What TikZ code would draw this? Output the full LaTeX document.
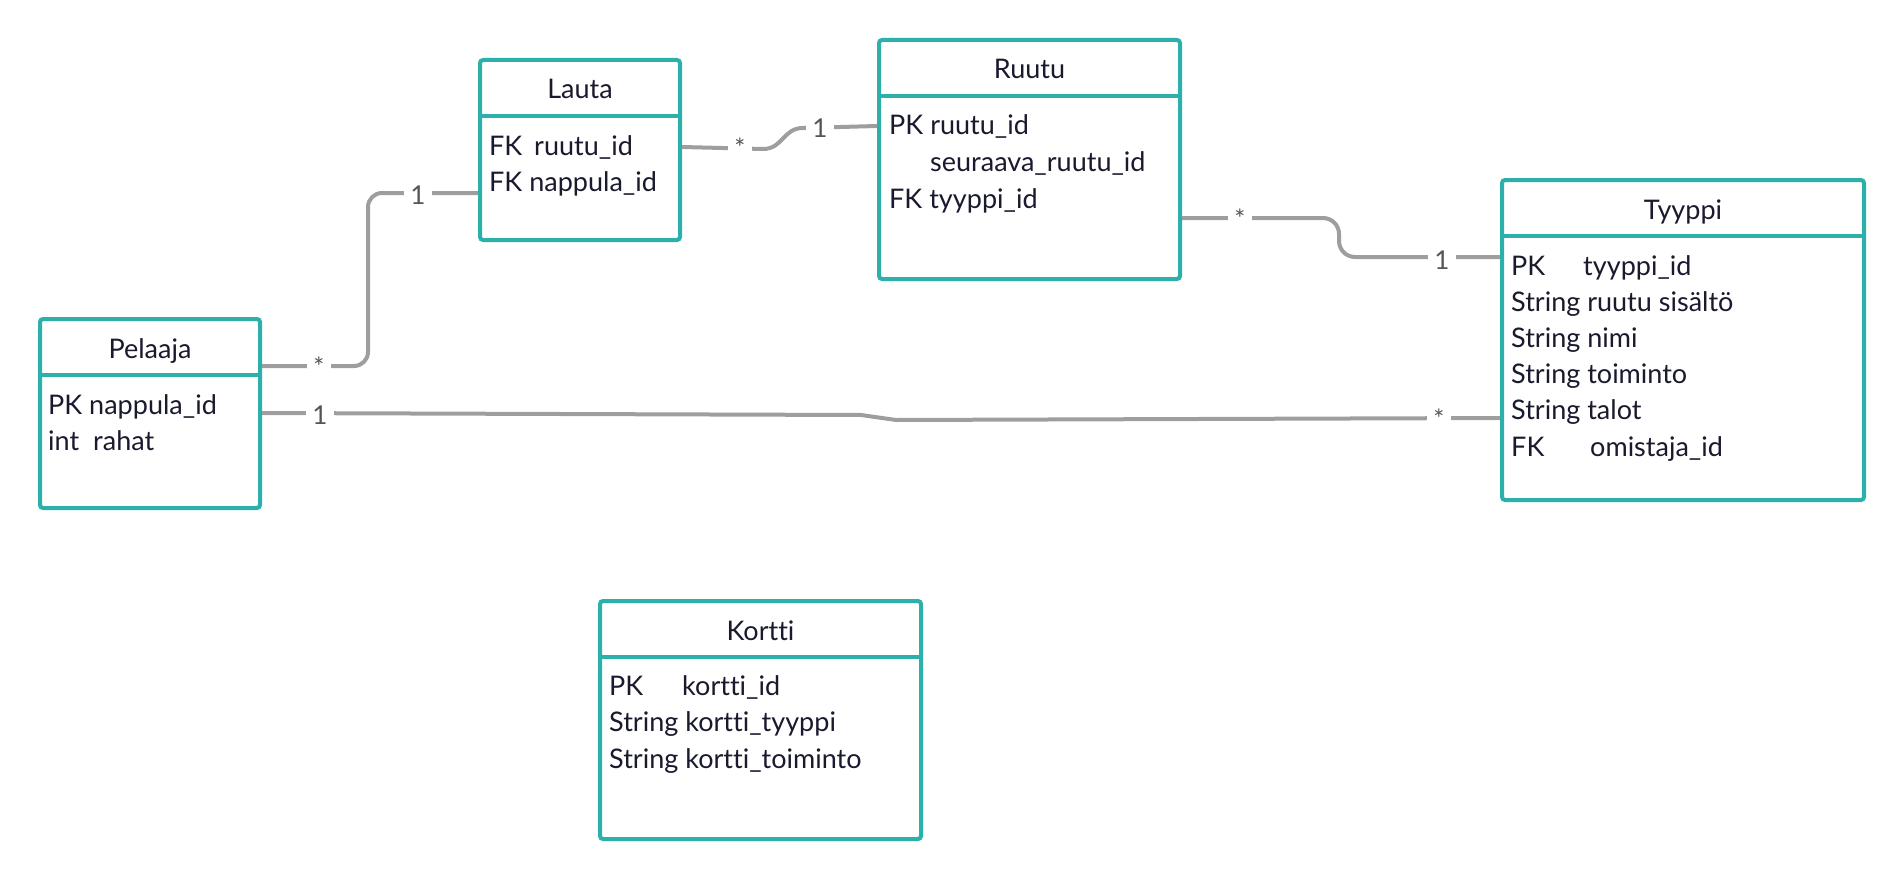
\documentclass[tikz,border=0pt]{standalone}
\usepackage{fontspec}
\setmainfont{Lato}[Ligatures=NoCommon]
\usetikzlibrary{calc}
\definecolor{boxteal}{HTML}{2CB0AC}
\definecolor{relgray}{HTML}{9E9E9E}
\definecolor{ink}{HTML}{1A1A2E}
\definecolor{numgray}{HTML}{555555}
\begin{document}
\begin{tikzpicture}[x=1pt,y=-1pt,
		tbl/.style={draw=boxteal,line width=4pt,rounded corners=3pt,fill=white,inner sep=0pt},
		divider/.style={draw=boxteal,line width=4pt},
		rel/.style={draw=relgray,line width=4pt},
		field/.style={anchor=base west,inner sep=0pt,text=ink,font=\fontsize{27}{30}\selectfont},
		title/.style={anchor=base,inner sep=0pt,text=ink,font=\fontsize{27}{30}\selectfont},
		one/.style={fill=white,inner sep=0pt,minimum width=28pt,minimum height=20pt,text=numgray,font=\fontsize{26}{30}\selectfont},
		many/.style={fill=white,inner sep=0pt,minimum width=24pt,minimum height=14pt,text=numgray,font=\fontsize{26}{26}\selectfont}]
	\useasboundingbox (0,0) rectangle (1900,880);

	% tables
	\node[tbl,minimum width=220pt,minimum height=189pt] (pelaaja) at (150,413.5) {};
	\node[tbl,minimum width=200pt,minimum height=180pt] (lauta) at (580,150) {};
	\node[tbl,minimum width=301pt,minimum height=239pt] (ruutu) at (1029.5,159.5) {};
	\node[tbl,minimum width=362pt,minimum height=320pt] (tyyppi) at (1683,340) {};
	\node[tbl,minimum width=321pt,minimum height=238pt] (kortti) at (760.5,720) {};

	\foreach \t/\name in {pelaaja/Pelaaja,lauta/Lauta,ruutu/Ruutu,tyyppi/Tyyppi,kortti/Kortti}{
		\draw[divider] ($(\t.north west)+(0,58)$) -- ($(\t.north east)+(0,58)$);
		\node[title] (\t-title) at ($(\t.north)+(0,41)$) {\name};
	}

	% fields
	\foreach \txt [count=\i from 0] in {PK nappula\_id,\makebox[45pt][l]{int}rahat}
		\node[field] (pelaaja-\i) at ($(pelaaja.north west)+(10,97+36.5*\i)$) {\txt};
	\foreach \txt [count=\i from 0] in {\makebox[45pt][l]{FK}ruutu\_id,FK nappula\_id}
		\node[field] (lauta-\i) at ($(lauta.north west)+(11,97+36.5*\i)$) {\txt};
	\foreach \txt [count=\i from 0] in {PK ruutu\_id,\phantom{PK }seuraava\_ruutu\_id,FK tyyppi\_id}
		\node[field] (ruutu-\i) at ($(ruutu.north west)+(12,97+36.5*\i)$) {\txt};
	\foreach \txt [count=\i from 0] in {\makebox[72pt][l]{PK}tyyppi\_id,String ruutu sisältö,String nimi,String toiminto,String talot,\makebox[79pt][l]{FK}omistaja\_id}
		\node[field] (tyyppi-\i) at ($(tyyppi.north west)+(11,97+36.2*\i)$) {\txt};
	\foreach \txt [count=\i from 0] in {\makebox[73pt][l]{PK}kortti\_id,String kortti\_tyyppi,String kortti\_toiminto}
		\node[field] (kortti-\i) at ($(kortti.north west)+(11,96+36.5*\i)$) {\txt};

	% relations
	\draw[rel,rounded corners=14pt] ($(pelaaja.north east)+(0,49)$) -| ($(lauta.north west)+(-110,135)$) -- ($(lauta.north west)+(0,135)$);
	\node[many] (pl-many) at (319,368) {\raisebox{3pt}{*}};
	\node[one] (pl-one) at (418,195) {1};

	\draw[rel] ($(lauta.north east)+(0,89)$) -- (763,149) .. controls (783,149) and (783,128) .. (803,128) -- ($(ruutu.north west)+(0,88)$);
	\node[many] (lr-many) at (740,149) {\raisebox{3pt}{*}};
	\node[one] (lr-one) at (820,128) {1};

	\draw[rel,rounded corners=16pt] ($(ruutu.north east)+(0,180)$) -| ($(tyyppi.north west)+(-161,79)$) -- ($(tyyppi.north west)+(0,79)$);
	\node[many] (rt-many) at (1240,220) {\raisebox{3pt}{*}};
	\node[one] (rt-one) at (1442,260) {1};

	\draw[rel] ($(pelaaja.north east)+(0,96)$) -- (861,415) -- (896,420) -- ($(tyyppi.north west)+(0,240)$);
	\node[one] (pt-one) at (320,415) {1};
	\node[many] (pt-many) at (1439,420) {\raisebox{3pt}{*}};
\end{tikzpicture}
\end{document}
